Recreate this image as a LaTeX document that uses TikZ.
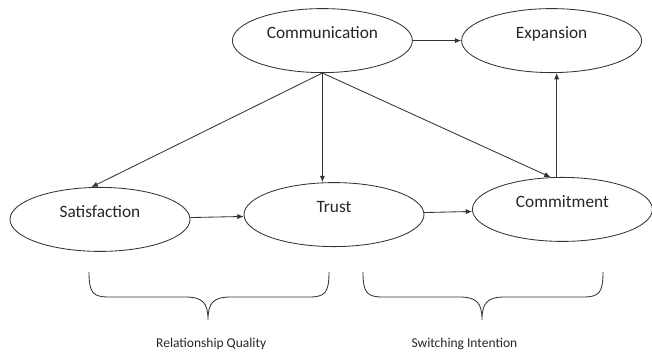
\documentclass[tikz,border=0pt]{standalone}
\usepackage{fontspec}
\setmainfont{Carlito}
\usetikzlibrary{shapes.geometric,arrows.meta}

\tikzset{
  construct/.style={ellipse,draw=black!80,line width=0.6pt,minimum width=4.5cm,minimum height=1.6cm,
    inner sep=0pt,text height=8pt,text depth=10.5pt,text=black!85,font=\fontsize{12.3}{14}\selectfont},
  link/.style={draw=black!80,line width=0.6pt,-{Latex[length=1.6mm,width=1.3mm]}},
  bracket/.style={draw=black!80,line width=0.6pt},
  groupname/.style={anchor=base,text=black!85,font=\fontsize{9.6}{11}\selectfont}
}

\begin{document}
\begin{tikzpicture}
            \useasboundingbox (0,0) rectangle (16.3,8.825);
            \node[construct] (comm)   at (8.06,7.81)  {Communication};
            \node[construct] (expan)  at (13.79,7.81) {Expansion};
            \node[construct] (satis)  at (2.5,3.34)   {Satisfaction};
            \node[construct] (trust)  at (8.35,3.46)  {Trust};
            \node[construct] (commit) at (14.06,3.59) {Commitment};
            \draw[link] (comm) -- (expan);
            \draw[link] (comm.south) -- (satis.105);
            \draw[link] (comm.south) -- (comm.south |- trust.north);
            \draw[link] (comm.south) -- (commit.110);
            \draw[link] (commit.100) -- (commit.100 |- expan.south);
            \draw[link] (satis) -- (trust);
            \draw[link] (trust) -- (commit);
            % the two curly brackets under the ellipses
            \begin{scope}[xshift=2.225cm]
            \draw[bracket] (0,2.025) .. controls (0,1.5) and (0.1,1.4) .. (0.5,1.4) -- (2.4,1.4)
              .. controls (2.85,1.4) and (2.975,1.25) .. (2.975,0.825)
              .. controls (2.975,1.25) and (3.1,1.4) .. (3.55,1.4) -- (5.5,1.4)
              .. controls (5.9,1.4) and (6,1.5) .. (6,2.025);
            \end{scope}
            \begin{scope}[xshift=9.075cm]
            \draw[bracket] (0,2.025) .. controls (0,1.5) and (0.1,1.4) .. (0.5,1.4) -- (2.4,1.4)
              .. controls (2.85,1.4) and (2.975,1.25) .. (2.975,0.825)
              .. controls (2.975,1.25) and (3.1,1.4) .. (3.55,1.4) -- (5.5,1.4)
              .. controls (5.9,1.4) and (6,1.5) .. (6,2.025);
            \end{scope}
            \node[groupname] (quality) at (5.28,0.15)  {Relationship Quality};
            \node[groupname] (switch)  at (11.61,0.15) {Switching Intention};
        \end{tikzpicture}
\end{document}
